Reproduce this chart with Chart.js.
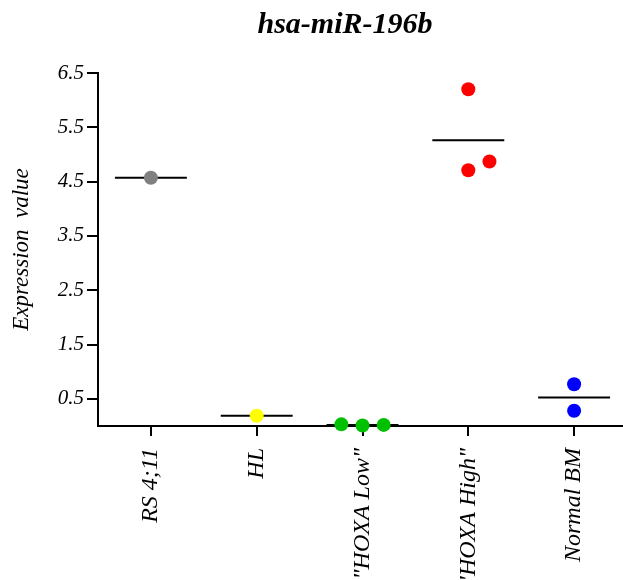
<!DOCTYPE html>
<html>
<head>
<meta charset="utf-8">
<script src="https://cdn.jsdelivr.net/npm/chart.js@4/dist/chart.umd.min.js"></script>
<style>
    html, body { margin: 0; padding: 0; background: #ffffff; overflow: hidden; }
    canvas { display: block; }
</style>
</head>
<body>
<canvas id="chart" width="634" height="580"></canvas>
<script>
"use strict";

// Данные графика
const categories = ['RS 4;11', 'HL', '"HOXA Low"', '"HOXA High"', 'Normal BM'];
const groupColors = ['#808080', '#ffff00', '#00c000', '#ff0000', '#0000ff'];
const groupValues = [
    [4.57],
    [0.19],
    [0.03, 0.01, 0.02],
    [6.20, 4.71, 4.87],
    [0.77, 0.28]
];
// смещение точек по горизонтали (разброс внутри группы)
const groupJitter = [
    [0],
    [0],
    [-0.2, 0, 0.2],
    [0, 0, 0.2],
    [0, 0]
];
const yTicks = [0.5, 1.5, 2.5, 3.5, 4.5, 5.5, 6.5];
const meanHalfWidth = 0.34;

const serif = 'Liberation Serif';

// Наборы данных: линии средних (сзади) и точки (спереди)
const datasets = [];
categories.forEach((cat, i) => {
    const vals = groupValues[i];
    const mean = vals.reduce((a, b) => a + b, 0) / vals.length;
    datasets.push({
        type: 'line',
        data: [{x: i - meanHalfWidth, y: mean}, {x: i + meanHalfWidth, y: mean}],
        borderColor: '#000000',
        borderWidth: 2,
        pointRadius: 0,
        showLine: true,
        clip: false,
        order: 2
    });
    datasets.push({
        type: 'scatter',
        data: vals.map((v, k) => ({x: i + groupJitter[i][k], y: v})),
        backgroundColor: groupColors[i],
        borderWidth: 0,
        pointRadius: 7,
        pointHoverRadius: 7,
        clip: false,
        order: 1
    });
});

// Заголовок рисуем сами, чтобы сдвинуть его как в оригинале
const titlePlugin = {
    id: 'plotTitle',
    afterDraw(chart) {
        const ctx = chart.ctx;
        ctx.save();
        ctx.font = 'italic bold 30px "' + serif + '"';
        ctx.fillStyle = '#000000';
        ctx.textAlign = 'center';
        ctx.textBaseline = 'middle';
        ctx.fillText('hsa-miR-196b', 345, 25);
        ctx.restore();
    }
};

const ctx = document.getElementById('chart').getContext('2d');
new Chart(ctx, {
    data: { datasets: datasets },
    plugins: [titlePlugin],
    options: {
        responsive: false,
        animation: false,
        layout: { padding: { top: 73, left: 0, right: 0, bottom: 0 } },
        plugins: {
            legend: { display: false },
            tooltip: { enabled: false }
        },
        scales: {
            x: {
                type: 'linear',
                min: -0.5,
                max: 4.5,
                afterBuildTicks: axis => {
                    axis.ticks = categories.map((c, i) => ({ value: i }));
                },
                afterFit: axis => { axis.height = 154; },
                grid: {
                    drawOnChartArea: false,
                    drawTicks: true,
                    tickLength: 10,
                    color: '#000000',
                    lineWidth: 2
                },
                border: { display: true, color: '#000000', width: 2 },
                ticks: {
                    autoSkip: false,
                    minRotation: 90,
                    maxRotation: 90,
                    padding: 12,
                    color: '#000000',
                    font: { family: serif, style: 'italic', size: 24 },
                    callback: value => categories[value]
                }
            },
            y: {
                type: 'linear',
                min: 0,
                max: 6.5,
                afterBuildTicks: axis => {
                    axis.ticks = yTicks.map(v => ({ value: v }));
                },
                afterFit: axis => { axis.width = 98; },
                grid: {
                    drawOnChartArea: false,
                    drawTicks: true,
                    tickLength: 11,
                    color: '#000000',
                    lineWidth: 2
                },
                border: { display: true, color: '#000000', width: 2 },
                ticks: {
                    padding: 3,
                    color: '#000000',
                    font: { family: serif, style: 'italic', size: 21 },
                    callback: value => Number(value).toFixed(1)
                },
                title: {
                    display: true,
                    text: 'Expression  value',
                    color: '#000000',
                    padding: { top: 8, bottom: 0 },
                    font: { family: serif, style: 'italic', size: 23 }
                }
            }
        }
    }
});
</script>
</body>
</html>
